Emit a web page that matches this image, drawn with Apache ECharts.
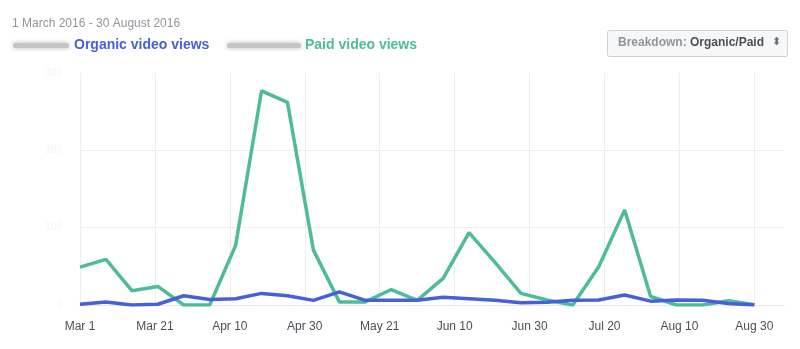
<!DOCTYPE html>
<html>
<head>
<meta charset="utf-8">
<title>Video views</title>
<script src="https://cdn.jsdelivr.net/npm/echarts@6/dist/echarts.min.js"></script>
<style>
  html, body { margin: 0; padding: 0; background: #fff; }
  #chart { width: 800px; height: 349px; }
</style>
</head>
<body>
<div id="chart"></div>
<script>
// Weekly data points, 1 March – 30 August 2016
const weeks = [
  '2016-03-01', '2016-03-08', '2016-03-15', '2016-03-22', '2016-03-29',
  '2016-04-05', '2016-04-12', '2016-04-19', '2016-04-26',
  '2016-05-03', '2016-05-10', '2016-05-17', '2016-05-24', '2016-05-31',
  '2016-06-07', '2016-06-14', '2016-06-21', '2016-06-28',
  '2016-07-05', '2016-07-12', '2016-07-19', '2016-07-26',
  '2016-08-02', '2016-08-09', '2016-08-16', '2016-08-23', '2016-08-30'
];

const organicViews = [
  1, 4, 0, 1, 12, 7, 8, 15, 12, 6, 17, 6, 6, 6,
  10, 8, 6, 3, 3.5, 6, 6.5, 13, 5, 6.5, 6, 2, 0
];

const paidViews = [
  49, 59, 18.5, 24, 0, 0, 77, 277, 262, 71, 4, 4, 20, 6,
  34.5, 93.5, 55, 15, 6.5, 0, 49.5, 123, 11, 0, 0, 5.5, 0.5
];

// Ticks along the date axis (evenly spaced between the first and last day)
const tickLabels = [
  'Mar 1', 'Mar 21', 'Apr 10', 'Apr 30', 'May 21',
  'Jun 10', 'Jun 30', 'Jul 20', 'Aug 10', 'Aug 30'
];
const yTickLabels = ['0', '100', '200', '300'];

const DAY = 86400000;
const start = Date.UTC(2016, 2, 1);
const toDay = s => Math.round((Date.parse(s + 'T00:00:00Z') - start) / DAY);
const lastDay = toDay(weeks[weeks.length - 1]);
const tickStep = lastDay / (tickLabels.length - 1);

const organicData = weeks.map((w, i) => [toDay(w), organicViews[i]]);
const paidData = weeks.map((w, i) => [toDay(w), paidViews[i]]);

const BLUE = '#4660d8';
const GREEN = '#4dbb9c';
const GRID = '#eeeeee';
const FONT = '"Liberation Sans", Arial, Helvetica, sans-serif';

// one extra split line sits at the axis end; keep it invisible
const xSplitColors = tickLabels.map(() => GRID).concat(['rgba(0,0,0,0)']);

const chart = echarts.init(document.getElementById('chart'));
chart.setOption({
  animation: false,
  textStyle: { fontFamily: FONT },
  grid: { left: 80, right: 16, top: 73, bottom: 44 },
  xAxis: {
    type: 'value',
    min: 0,
    max: 190,
    interval: tickStep,
    axisLine: { show: true, lineStyle: { color: '#e6e6e6', width: 1 } },
    axisTick: { show: false },
    axisLabel: {
      color: '#4b4f56',
      fontSize: 12,
      margin: 16,
      showMaxLabel: false,
      formatter: v => {
        const idx = Math.round(v / tickStep);
        return idx < tickLabels.length && Math.abs(idx * tickStep - v) < 0.01 ? tickLabels[idx] : '';
      }
    },
    splitLine: { show: true, lineStyle: { color: xSplitColors, width: 1 } }
  },
  yAxis: {
    type: 'value',
    min: 0,
    max: 300,
    interval: 100,
    axisLine: { show: false },
    axisTick: { show: false },
    axisLabel: {
      color: '#f4f4f4',
      fontSize: 10,
      margin: 18,
      formatter: v => yTickLabels[Math.round(v / 100)]
    },
    splitLine: { show: true, lineStyle: { color: [GRID, GRID, GRID, 'rgba(0,0,0,0)'], width: 1 } }
  },
  series: [
    {
      name: 'Organic video views',
      type: 'line',
      data: organicData,
      showSymbol: false,
      symbol: 'none',
      lineStyle: { color: BLUE, width: 3.5 },
      itemStyle: { color: BLUE },
      z: 3
    },
    {
      name: 'Paid video views',
      type: 'line',
      data: paidData,
      showSymbol: false,
      symbol: 'none',
      lineStyle: { color: GREEN, width: 3.5 },
      itemStyle: { color: GREEN },
      z: 2
    }
  ],
  graphic: [
    {
      type: 'text', left: 12, top: 18,
      style: { text: '1 March 2016 - 30 August 2016', fill: '#90949c', font: '12px ' + FONT }
    },
    // blurred totals next to each series name
    {
      type: 'rect', shape: { x: 13, y: 43, width: 56, height: 5, r: 2.5 },
      style: { fill: '#c4c4c4', shadowBlur: 5, shadowColor: '#b8b8b8' }
    },
    {
      type: 'text', left: 74, top: 38,
      style: { text: 'Organic video views', fill: BLUE, font: 'bold 14px ' + FONT }
    },
    {
      type: 'rect', shape: { x: 227, y: 43, width: 74, height: 5, r: 2.5 },
      style: { fill: '#c4c4c4', shadowBlur: 5, shadowColor: '#b8b8b8' }
    },
    {
      type: 'text', left: 305, top: 38,
      style: { text: 'Paid video views', fill: GREEN, font: 'bold 14px ' + FONT }
    },
    // breakdown selector
    {
      type: 'rect', shape: { x: 607.5, y: 30.5, width: 180, height: 26, r: 2 },
      style: { fill: '#f6f7f9', stroke: '#ced0d4', lineWidth: 1 }
    },
    {
      type: 'text', left: 618, top: 37,
      style: { text: 'Breakdown:', fill: '#90949c', font: 'bold 12px ' + FONT }
    },
    {
      type: 'text', left: 690, top: 37,
      style: { text: 'Organic/Paid', fill: '#4b4f56', font: 'bold 12px ' + FONT }
    },
    {
      type: 'text', left: 772, top: 37,
      style: { text: '⬍', fill: '#6b6f76', font: '11px "DejaVu Sans", sans-serif' }
    }
  ]
});
</script>
</body>
</html>
